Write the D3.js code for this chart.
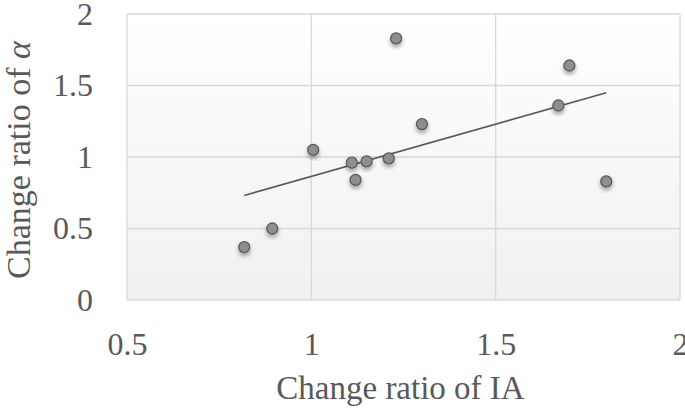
<!DOCTYPE html>
<html><head><meta charset="utf-8">
<script src="https://cdn.jsdelivr.net/npm/d3@7"></script>
<style>body{margin:0;background:#fff}svg{display:block}</style>
</head><body><svg id="c" width="685" height="409"></svg>
<script>
const ia    = [0.818,0.894,1.005,1.11,1.12,1.15,1.21,1.23,1.30,1.67,1.70,1.80];
const alpha = [0.37,0.50,1.05,0.96,0.84,0.97,0.99,1.83,1.23,1.36,1.64,0.83];
const xTicks = [0.5,1,1.5,2];
const yTicks = [0,0.5,1,1.5,2];

const svg = d3.select("#c");
const m = {l:127, r:5, t:14, b:109};
const W = 685, H = 409;
const x = d3.scaleLinear().domain([0.5,2]).range([m.l, W-m.r]);
const y = d3.scaleLinear().domain([0,2]).range([H-m.b, m.t]);
const font = "'Liberation Serif', serif", col = "#595959";

const defs = svg.append("defs");
const g = defs.append("linearGradient").attr("id","bg").attr("x1",0).attr("y1",0).attr("x2",0).attr("y2",1);
g.append("stop").attr("offset","0%").attr("stop-color","#ffffff");
g.append("stop").attr("offset","100%").attr("stop-color","#f0f0f0");
const f = defs.append("filter").attr("id","sh").attr("x","-50%").attr("y","-50%").attr("width","200%").attr("height","200%");
f.append("feDropShadow").attr("dx",0).attr("dy",3).attr("stdDeviation",2).attr("flood-color","#000").attr("flood-opacity",0.35);

svg.append("rect").attr("x",x(0.5)).attr("y",y(2)).attr("width",x(2)-x(0.5)).attr("height",y(0)-y(2))
  .attr("fill","url(#bg)");

const grid = svg.append("g").attr("stroke","#d9d9d9").attr("stroke-width",1.3);
xTicks.forEach(t=>grid.append("line").attr("x1",x(t)).attr("x2",x(t)).attr("y1",y(0)).attr("y2",y(2)));
yTicks.forEach(t=>grid.append("line").attr("x1",x(0.5)).attr("x2",x(2)).attr("y1",y(t)).attr("y2",y(t)));

// linear regression trendline
const mx = d3.mean(ia), my = d3.mean(alpha);
const slope = d3.sum(ia.map((v,i)=>(v-mx)*(alpha[i]-my))) / d3.sum(ia.map(v=>(v-mx)*(v-mx)));
const icpt = my - slope*mx;
const [x0,x1] = d3.extent(ia);
svg.append("line").attr("x1",x(x0)).attr("y1",y(icpt+slope*x0)).attr("x2",x(x1)).attr("y2",y(icpt+slope*x1))
  .attr("stroke","#595959").attr("stroke-width",1.6);

svg.append("g").selectAll("circle").data(ia).join("circle")
  .attr("cx",d=>x(d)).attr("cy",(d,i)=>y(alpha[i])).attr("r",5.5)
  .attr("fill","#8e8e8e").attr("stroke","#5a5a5a").attr("stroke-width",1.3).attr("filter","url(#sh)");

const xa = svg.append("g").attr("transform",`translate(0,${y(0)})`)
  .call(d3.axisBottom(x).tickValues(xTicks).tickSize(0).tickPadding(32).tickFormat(d3.format("")));
const ya = svg.append("g").attr("transform",`translate(${x(0.5)},0)`)
  .call(d3.axisLeft(y).tickValues(yTicks).tickSize(0).tickPadding(34).tickFormat(d3.format("")));
[xa,ya].forEach(a=>{a.select(".domain").remove();a.selectAll("text").attr("font-family",font).attr("font-size",32).attr("fill",col);});

svg.append("text").attr("x",(x(0.5)+x(2))/2-3).attr("y",399).attr("text-anchor","middle")
  .attr("font-family",font).attr("font-size",33).attr("fill",col).text("Change ratio of IA");
const yt = svg.append("text").attr("transform",`translate(30,160) rotate(-90)`).attr("text-anchor","middle")
  .attr("font-family",font).attr("font-size",34).attr("fill",col);
yt.append("tspan").text("Change ratio of ");
yt.append("tspan").attr("font-style","italic").text("α");
</script></body></html>
